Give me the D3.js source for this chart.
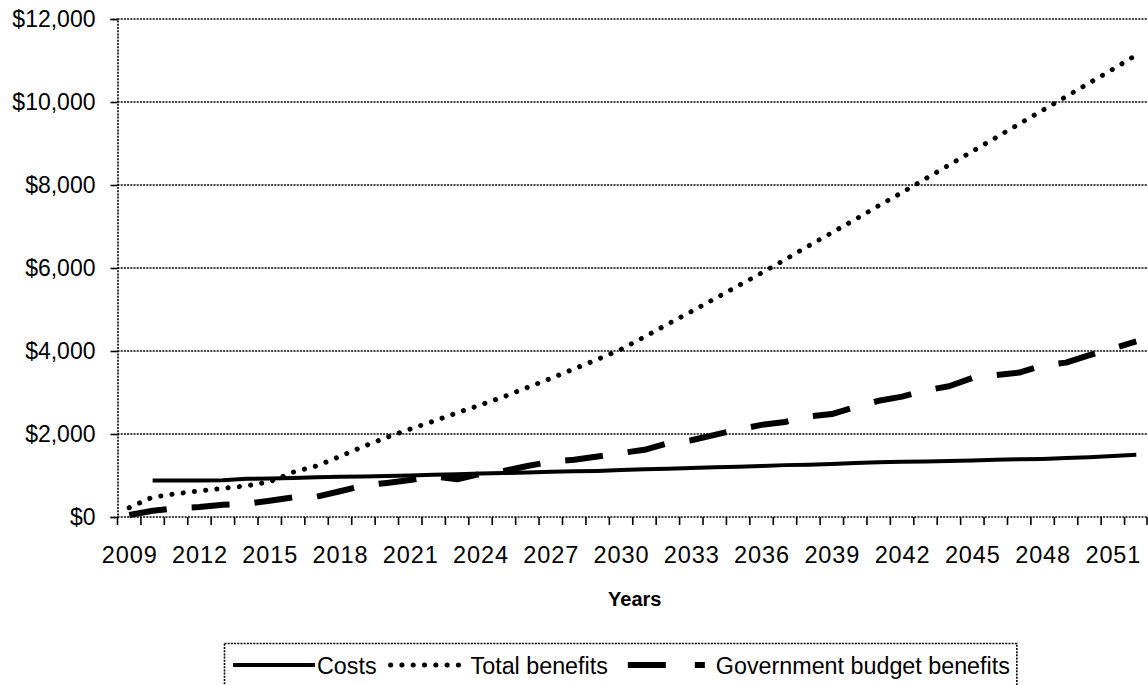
<!DOCTYPE html>
<html>
<head>
<meta charset="utf-8">
<script src="https://cdn.jsdelivr.net/npm/d3@7"></script>
<style>
  body { margin: 0; background: #fff; }
  svg { font-family: "Liberation Sans", Arial, sans-serif; }
</style>
</head>
<body>
<svg id="chart" width="1148" height="685"></svg>
<script>
// years on the category axis
const years = d3.range(2009, 2053);
const labelYears = years.filter(y => (y - 2009) % 3 === 0);
const yTicks = [0, 2000, 4000, 6000, 8000, 10000, 12000];

// series values ($), one per year; costs start in 2010
const costs = [null, 880, 880, 880, 885, 920, 930, 940, 960, 970, 975, 985, 1000, 1020, 1030, 1050,
  1060, 1070, 1090, 1100, 1110, 1130, 1150, 1160, 1180, 1200, 1210, 1230, 1250, 1260, 1280,
  1300, 1320, 1330, 1340, 1350, 1360, 1380, 1390, 1400, 1420, 1440, 1470, 1500];
const totalBenefits = [225, 480, 560, 630, 690, 750, 850, 1080, 1230, 1460, 1700, 1920, 2120,
  2310, 2510, 2700, 2900, 3120, 3340, 3570, 3800, 4040, 4340, 4650, 4950, 5260, 5570, 5880,
  6200, 6530, 6850, 7170, 7500, 7820, 8150, 8480, 8810, 9140, 9470, 9800, 10130, 10460, 10790, 11130];
const govBenefits = [50, 150, 215, 240, 295, 315, 390, 475, 490, 620, 760, 820, 890, 980, 910,
  1040, 1110, 1230, 1330, 1380, 1460, 1540, 1620, 1780, 1850, 1980, 2110, 2220, 2290, 2420,
  2480, 2650, 2800, 2900, 3050, 3150, 3350, 3420, 3480, 3650, 3720, 3900, 4060, 4230];

const seriesNames = ["Costs", "Total benefits", "Government budget benefits"];

const svg = d3.select("#chart");
const plot = { left: 117.5, right: 1148, top: 19, bottom: 517 };

const x = d3.scaleBand().domain(years).range([plot.left, plot.right]).padding(0);
const y = d3.scaleLinear().domain([0, 12000]).range([plot.bottom, plot.top]);
const cx = yr => x(yr) + x.bandwidth() / 2;

const dotted = "2,1.2";

// gridlines
svg.append("g").selectAll("line")
  .data(yTicks)
  .join("line")
    .attr("x1", plot.left).attr("x2", plot.right)
    .attr("y1", d => y(d)).attr("y2", d => y(d))
    .attr("stroke", "#000").attr("stroke-width", 1.6)
    .attr("stroke-dasharray", dotted);

// y axis
const yAxis = svg.append("g")
  .attr("transform", `translate(${plot.left},0)`)
  .call(d3.axisLeft(y).tickValues(yTicks).tickSize(7).tickPadding(15)
    .tickFormat(d => "$" + d3.format(",")(d)));
yAxis.select(".domain").attr("stroke-dasharray", dotted).attr("stroke-width", 1.6);
yAxis.selectAll(".tick line").attr("stroke-width", 1.6);
yAxis.selectAll("text").attr("font-size", 23).attr("fill", "#000")
  .attr("font-family", "Liberation Sans, Arial, sans-serif");

// x axis: ticks between categories
svg.append("g").selectAll("line")
  .data(years.concat([2053]))
  .join("line")
    .attr("x1", d => d === 2053 ? plot.right - 1 : x(d))
    .attr("x2", d => d === 2053 ? plot.right - 1 : x(d))
    .attr("y1", plot.bottom).attr("y2", plot.bottom + 8)
    .attr("stroke", "#000").attr("stroke-width", 1.6);

svg.append("g").selectAll("text")
  .data(labelYears)
  .join("text")
    .attr("x", d => cx(d) + 0.5)
    .attr("y", 563)
    .attr("text-anchor", "middle")
    .attr("font-size", 23.5)
    .attr("letter-spacing", 0.9)
    .text(d => d);

svg.append("text")
  .attr("x", (plot.left + plot.right) / 2 + 2)
  .attr("y", 606)
  .attr("text-anchor", "middle")
  .attr("font-size", 20)
  .attr("font-weight", "bold")
  .text("Years");

// lines
const line = d3.line()
  .defined(d => d.v != null)
  .x(d => cx(d.yr))
  .y(d => y(d.v));

const styles = [
  { width: 4, dash: null, cap: "butt" },
  { width: 5, dash: "0.1,11.2", cap: "round" },
  { width: 6, dash: "38,25", cap: "butt" }
];
[costs, totalBenefits, govBenefits].forEach((vals, i) => {
  svg.append("path")
    .datum(years.map((yr, j) => ({ yr, v: vals[j] })))
    .attr("fill", "none")
    .attr("stroke", "#000")
    .attr("stroke-width", styles[i].width)
    .attr("stroke-linecap", styles[i].cap)
    .attr("stroke-linejoin", "round")
    .attr("stroke-dasharray", styles[i].dash)
    .attr("d", line);
});

// legend: swatch then label, laid out left to right
const legend = svg.append("g");
const legBox = legend.append("rect")
  .attr("x", 224.5).attr("y", 643.5).attr("height", 60)
  .attr("fill", "none").attr("stroke", "#000").attr("stroke-width", 1.6)
  .attr("stroke-dasharray", dotted);

const legY = 665;
const swLen = [82, 74, 77];
const gapBefore = [9, 14, 20];
const gapAfter = [2, 6, 11];
let cursor = 224;
seriesNames.forEach((name, i) => {
  const x1 = cursor + gapBefore[i];
  legend.append("line")
    .attr("x1", x1).attr("x2", x1 + swLen[i])
    .attr("y1", legY).attr("y2", legY)
    .attr("stroke", "#000")
    .attr("stroke-width", styles[i].width)
    .attr("stroke-linecap", styles[i].cap)
    .attr("stroke-dasharray", i === 2 ? "38,29" : styles[i].dash);
  const t = legend.append("text")
    .attr("x", x1 + swLen[i] + gapAfter[i]).attr("y", legY + 8.5)
    .attr("font-size", 23.3)
    .text(name);
  cursor = x1 + swLen[i] + gapAfter[i] + t.node().getComputedTextLength();
});
legBox.attr("width", cursor + 7 - 224.5);
</script>
</body>
</html>
